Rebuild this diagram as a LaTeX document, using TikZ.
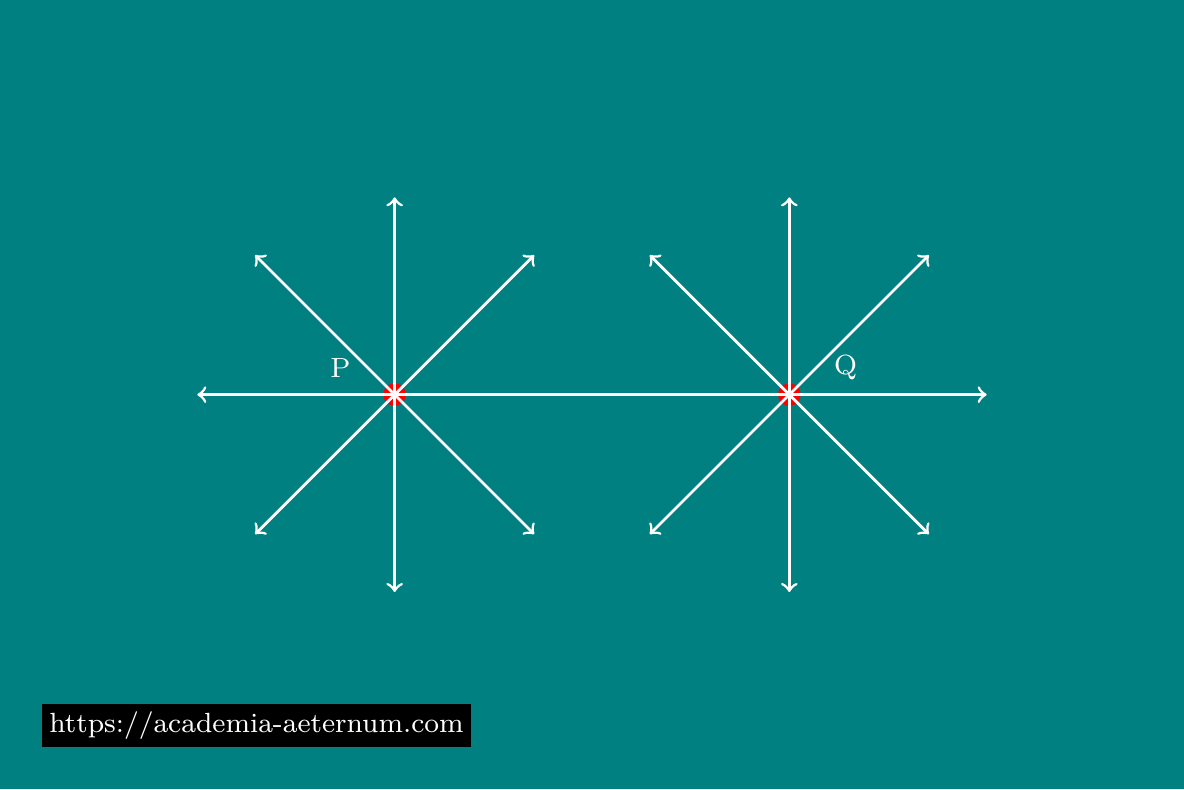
\documentclass[tikz,border=0pt]{standalone}
\usetikzlibrary{calc}
\begin{document}
\begin{tikzpicture}[
  ray/.style={white, thick, ->},
  dot/.style={circle, fill=red, inner sep=0pt, minimum size=0.23cm},
  lbl/.style={white, font=\footnotesize, inner sep=0pt},
  wm/.style={fill=black, text=white, font=\footnotesize, inner sep=2.2pt}
]
\fill[teal] (0,0) rectangle (12,8);
\useasboundingbox (0,0) rectangle (12,8);
\node[dot] (P) at (4,4) {};
\node[dot] (Q) at (8,4) {};
\foreach \c/\n in {P/p, Q/q}{
  \foreach \a in {0,45,...,315}{
    \coordinate (\n\a) at ($(\c.center)+(\a:2)$);
  }
}
\draw[white, thick] (P.center) -- (Q.center);
\foreach \a in {45,90,...,315}{ \draw[ray] (P.center) -- (p\a); }
\foreach \a in {0,45,90,135,225,270,315}{ \draw[ray] (Q.center) -- (q\a); }
\node[lbl] (lp) at ($(P)+(-0.55,0.27)$) {P};
\node[lbl] (lq) at ($(Q)+(0.57,0.28)$) {Q};
\node[wm] (w) at (2.6,0.65) {https://academia-aeternum.com};
\end{tikzpicture}
\end{document}
